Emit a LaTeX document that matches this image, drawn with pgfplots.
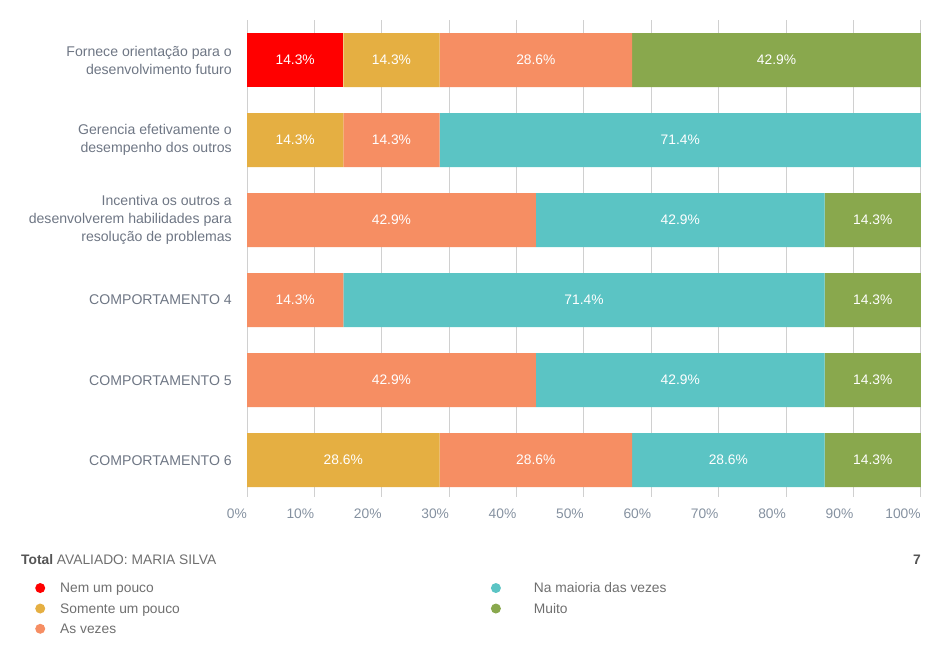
\documentclass[border=0pt]{standalone}
\usepackage{fontspec}
\setmainfont{Liberation Sans}
\usepackage{pgfplots}
\usepackage{pgfplotstable}
\pgfplotsset{compat=1.18}
\definecolor{cNem}{HTML}{FF0000}
\definecolor{cSom}{HTML}{E5AF42}
\definecolor{cAsv}{HTML}{F68E63}
\definecolor{cNam}{HTML}{5BC4C4}
\definecolor{cMui}{HTML}{89A84D}
\definecolor{labelc}{HTML}{6E7684}
\definecolor{tickc}{HTML}{8591A0}
\definecolor{legc}{HTML}{6F6F6F}
\definecolor{totc}{HTML}{555555}
\definecolor{gridc}{HTML}{D0D0D0}
\newcommand{\fs}{\fontsize{13.8}{18}\selectfont}
\newcommand{\fc}{\fontsize{14.1}{18}\selectfont}

\pgfplotstableread{
idx nem som asv nam mui
0 14.29 14.29 28.57 0 42.86
1 0 14.29 14.29 71.43 0
2 0 0 42.86 42.86 14.29
3 0 0 14.29 71.43 14.29
4 0 0 42.86 42.86 14.29
5 0 28.57 28.57 28.57 14.29
}\data

\pgfplotsset{seg/.style={draw=none, fill=#1}}

\begin{document}
\begin{tikzpicture}
\path[use as bounding box] (0,0) rectangle (944pt,-658pt);
\begin{axis}[
  at={(247pt,-497pt)}, anchor=south west,
  scale only axis, width=674pt, height=477pt,
  xbar stacked, bar width=54pt,
  xmin=0, xmax=100.02, ymin=-0.5, ymax=5.46, y dir=reverse,
  /pgf/number format/assume math mode=true,
  xtick={0,10,...,100},
  xticklabels={0\%,10\%,20\%,30\%,40\%,50\%,60\%,70\%,80\%,90\%,100\%},
  ytick={0,...,5},
  yticklabels={{Fornece orientação para o\\desenvolvimento futuro},
               {Gerencia efetivamente o\\desempenho dos outros},
               {Incentiva os outros a\\desenvolverem habilidades para\\resolução de problemas},
               {COMPORTAMENTO 4},{COMPORTAMENTO 5},{COMPORTAMENTO 6}},
  yticklabel style={align=right, font=\fc, text=labelc, inner sep=0pt, xshift=-15pt},
  xticklabel style={anchor=north east, font=\fs, text=tickc, inner sep=0pt, yshift=-12pt},
  xmajorgrids, grid style={draw=gridc, line width=1pt},
  axis line style={draw=none},
  major tick length=0pt,
  nodes near coords={\ifdim\rawx pt>0.5pt\pgfmathprintnumber[fixed,precision=1,fixed zerofill]{\rawx}\%\fi},
  every node near coord/.append style={anchor=center, text=white, font=\fs},
  transpose legend, legend columns=3,
  legend cell align=left,
  legend image code/.code={\fill[#1] (5pt,0.5pt) circle (5pt);},
  legend style={draw=none, fill=none, at={(-0.3145,-0.1794)}, anchor=north west,
      inner sep=0pt, font=\fs, text=legc, nodes={inner sep=0pt}, row sep=9pt,
      /tikz/every odd column/.append style={column sep=15pt},
      /tikz/every even column/.append style={column sep=311pt}},
]
\addplot[seg=cNem, visualization depends on={\thisrow{nem} \as \rawx}] table[x=nem,y=idx]{\data};
\addlegendentry{Nem um pouco}
\addplot[seg=cSom, visualization depends on={\thisrow{som} \as \rawx}] table[x=som,y=idx]{\data};
\addlegendentry{Somente um pouco}
\addplot[seg=cAsv, visualization depends on={\thisrow{asv} \as \rawx}] table[x=asv,y=idx]{\data};
\addlegendentry{As vezes}
\addplot[seg=cNam, visualization depends on={\thisrow{nam} \as \rawx}] table[x=nam,y=idx]{\data};
\addlegendentry{\hspace*{18pt}Na maioria das vezes}
\addplot[seg=cMui, visualization depends on={\thisrow{mui} \as \rawx}] table[x=mui,y=idx]{\data};
\addlegendentry{\hspace*{18pt}Muito}
\end{axis}
\node[anchor=base west, font=\fs, inner sep=0pt] at (21pt,-564pt)
  {\textcolor{totc}{\textbf{Total}} \textcolor{legc}{AVALIADO: MARIA SILVA}};
\node[anchor=base east, font=\fs, inner sep=0pt, text=totc] at (921pt,-564pt) {\textbf{7}};
\end{tikzpicture}
\end{document}
